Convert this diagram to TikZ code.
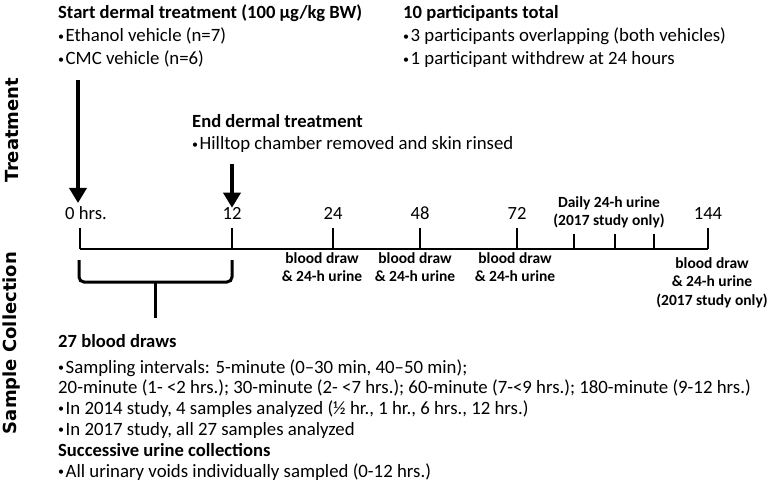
\documentclass[tikz,border=0pt]{standalone}
\usepackage{fontspec}
\setmainfont{Carlito}
\newfontfamily\sidefont{DejaVu Sans}
\usetikzlibrary{arrows.meta,calc}
\def\fs#1{\fontsize{#1}{#1}\selectfont}
\def\bul{{\fs{12}\raisebox{1.2pt}{•}}\hspace{1.5pt}}

\begin{document}
\begin{tikzpicture}[x=1pt, y=-1pt,
		txt/.style={anchor=base west, inner sep=0pt, font=\fs{18.8}},
		hd/.style={txt, font=\fs{18.6}\bfseries},
		hour/.style={anchor=base, inner sep=0pt, font=\fs{18.6}},
		note/.style={anchor=north, inner sep=0pt, align=center, font=\fontsize{15.5}{18.5}\selectfont\bfseries},
		side/.style={rotate=90, inner sep=0pt, font=\sidefont\fs{18}\bfseries},
		bigarrow/.style={line width=3.5pt, -{Triangle[width=17pt,length=15pt]}},
		axisline/.style={line width=2.2pt},
		brace/.style={line width=3pt, rounded corners=5pt}]
				\useasboundingbox (0,0) rectangle (771,489);
				
				\node[side] (trt) at (12,130) {Treatment};
				\node[side] (smp) at (12,343) {Sample Collection};
				
				\node[hd] (start) at (58,19) {Start dermal treatment (100 µg/kg BW)};
				\node[txt] (eth) at (58,42) {\bul Ethanol vehicle (n=7)};
				\node[txt] (cmc) at (58,65) {\bul CMC vehicle (n=6)};
				
				\node[hd] (part) at (403,19) {10 participants total};
				\node[txt] (ovl) at (403,42) {\bul 3 participants overlapping (both vehicles)};
				\node[txt] (wdr) at (403,65) {\bul 1 participant withdrew at 24 hours};
				
				\node[hd] (end) at (192,128) {End dermal treatment};
				\node[txt] (rinse) at (192,150) {\bul Hilltop chamber removed and skin rinsed};
				
				\node[hour, anchor=base west] (h0) at (65,220) {0 hrs.};
				\foreach \x/\t in {232/12, 333/24, 420/48, 517/72, 708/144}
					\node[hour] (h\t) at (\x,220) {\t};
				
				\coordinate (a0) at (78,80);
				\coordinate (a12) at (232,164);
				\draw[bigarrow] (a0) -- (a0 |- 0,203);
				\draw[bigarrow] (a12) -- (h12.north);
				
				\coordinate (ax0) at (80,249);
				\coordinate (ax1) at (708,249);
				\draw[axisline] (ax0) -- (ax1);
				\foreach \x in {80,232,333,420,517,708}
					\draw[axisline] (\x,228) -- (\x,249);
				\foreach \x in {574,615,654}
					\draw[axisline] (\x,234) -- (\x,249);
				
				\node[note] (daily) at (609,196) {Daily 24-h urine\\(2017 study only)};
				\node[note] (b24) at (322,252) {blood draw\\\& 24-h urine};
				\node[note] (b48) at (415,252) {blood draw\\\& 24-h urine};
				\node[note] (b72) at (515,252) {blood draw\\\& 24-h urine};
				\node[note] (b144) at (712,257) {blood draw\\\& 24-h urine\\(2017 study only)};
				
				\coordinate (brL) at (79,260);
				\coordinate (brR) at (232,260);
				\coordinate (brM) at (155,282);
				\draw[brace] (brL) -- (brL |- brM) -- (brR |- brM) -- (brR);
				\draw[brace] (brM) -- ++(0,36);
				
				\node[hd] (bd) at (58,347) {27 blood draws};
				\node[txt] (smpl) at (58,373) {\bul Sampling intervals: 5-minute (0–30 min, 40–50 min);};
				\node[txt] (intv) at (58,393) {20-minute (1- <2 hrs.); 30-minute (2- <7 hrs.); 60-minute (7-<9 hrs.); 180-minute (9-12 hrs.)};
				\node[txt] (s14) at (58,414) {\bul In 2014 study, 4 samples analyzed (½ hr., 1 hr., 6 hrs., 12 hrs.)};
				\node[txt] (s17) at (58,435) {\bul In 2017 study, all 27 samples analyzed};
				\node[hd] (succ) at (58,456) {Successive urine collections};
				\node[txt] (voids) at (58,477) {\bul All urinary voids individually sampled (0-12 hrs.)};
			\end{tikzpicture}
\end{document}
